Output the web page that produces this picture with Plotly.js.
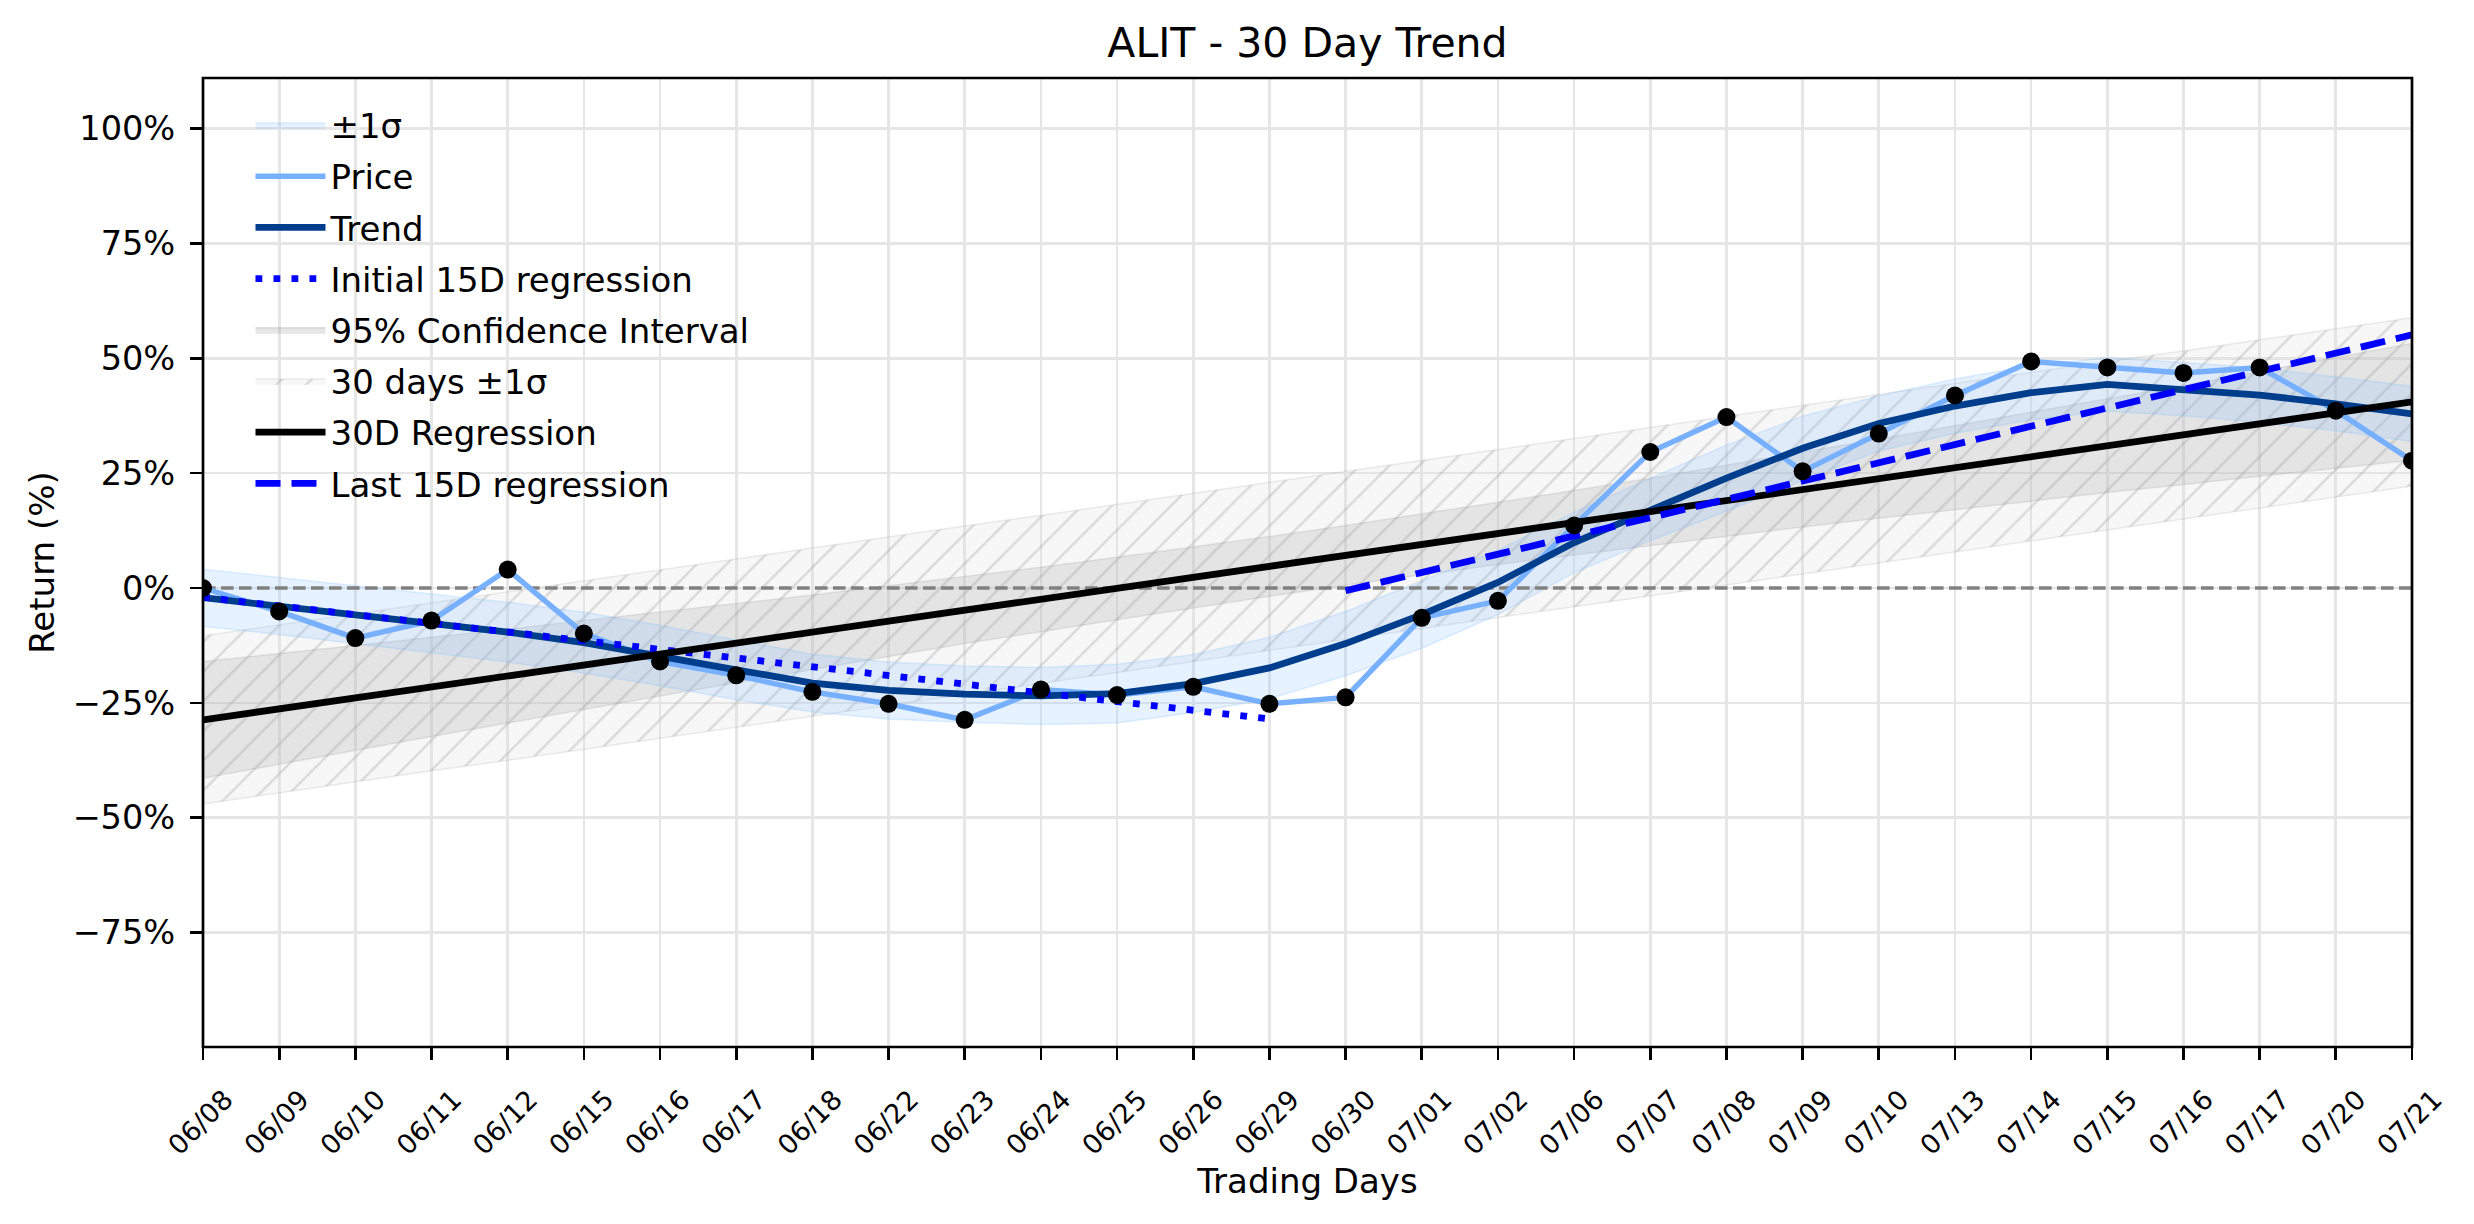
<!DOCTYPE html>
<html>
<head>
<meta charset="utf-8">
<script src="https://cdn.plot.ly/plotly-3.0.1.min.js"></script>
<style>
html,body{margin:0;padding:0;background:#ffffff;}
#chart{width:2474px;height:1224px;}
</style>
</head>
<body>
<div id="chart"></div>
<script>
// ---- data ----
const dates = ['06/08','06/09','06/10','06/11','06/12','06/15','06/16','06/17','06/18','06/22',
               '06/23','06/24','06/25','06/26','06/29','06/30','07/01','07/02','07/06','07/07',
               '07/08','07/09','07/10','07/13','07/14','07/15','07/16','07/17','07/20','07/21'];
const price = [0, -5.1, -10.9, -7.1, 4.0, -9.9, -16.0, -19.0, -22.6, -25.2,
               -28.7, -22.1, -23.3, -21.5, -25.2, -23.8, -6.5, -2.8, 13.6, 29.6,
               37.2, 25.4, 33.6, 41.9, 49.3, 48.0, 46.8, 48.0, 38.6, 27.7];
const trend = [-2.1, -3.9, -5.8, -7.7, -9.6, -11.9, -14.7, -17.8, -20.7, -22.3,
               -23.1, -23.5, -23.0, -20.8, -17.4, -12.1, -5.8, 1.2, 9.9, 17.1,
               23.9, 30.4, 35.8, 39.6, 42.5, 44.3, 43.3, 42.0, 40.1, 37.9];
const trendSigma = [6.2, 6.2, 6.3, 6.4, 6.5, 6.6, 6.6, 6.5, 6.3, 6.2,
                    6.1, 6.2, 6.4, 6.3, 6.7, 7.0, 7.3, 7.0, 6.6, 6.8,
                    7.2, 7.0, 6.0, 5.9, 5.9, 5.8, 5.8, 5.9, 5.9, 6.0];
const reg30 = [-28.7, -26.3, -23.9, -21.5, -19.2, -16.8, -14.4, -12.0, -9.6, -7.2,
               -4.8, -2.5, -0.1, 2.3, 4.7, 7.1, 9.5, 11.9, 14.2, 16.6,
               19.0, 21.4, 23.8, 26.2, 28.6, 31.0, 33.3, 35.7, 38.1, 40.5];
const ciHalf = [12.7, 12.0, 11.4, 10.8, 10.2, 9.7, 9.1, 8.6, 8.1, 7.7,
                7.3, 7.0, 6.8, 6.6, 6.5, 6.5, 6.6, 6.8, 7.0, 7.3,
                7.7, 8.1, 8.6, 9.1, 9.7, 10.2, 10.8, 11.4, 12.0, 12.7];
const sigma30 = 18.3;
const init15 = [-2.0, -3.9, -5.8, -7.7, -9.6, -11.5, -13.4, -15.3, -17.1, -19.0,
                -20.9, -22.8, -24.7, -26.6, -28.5];
const last15 = [-0.6, 3.4, 7.4, 11.3, 15.3, 19.3, 23.3, 27.3, 31.2, 35.2,
                39.2, 43.2, 47.2, 51.1, 55.1];
const zeroRef = [0, 0];
const yTicks = [-75, -50, -25, 0, 25, 50, 75, 100];
const yTickText = yTicks.map(v => (v < 0 ? '\u2212' : '') + Math.abs(v) + '%');

// ---- helpers ----
function band(center, half) {
  const h = i => Array.isArray(half) ? half[i] : half;
  const up = center.map((v, i) => v + h(i));
  const lo = center.map((v, i) => v - h(i));
  return {x: dates.concat(dates.slice().reverse()), y: up.concat(lo.slice().reverse())};
}

const FONT = 'DejaVu Sans, Arial, sans-serif';
const sBand = band(trend, trendSigma);
const ciBand = band(reg30, ciHalf);
const hBand = band(reg30, sigma30);

const traces = [
  {name: '±1σ', legendgroup: 'g1', x: sBand.x, y: sBand.y, mode: 'lines', fill: 'toself',
   fillcolor: 'rgba(130,190,255,0.2)', line: {color: 'rgba(130,190,255,0.25)', width: 1.5}, zorder: 2,
   hoverinfo: 'skip'},
  {name: 'Price', legendgroup: 'g2', x: dates, y: price, mode: 'lines',
   line: {color: '#77b0ff', width: 5.4}, zorder: 4},
  {name: 'Trend', legendgroup: 'g3', x: dates, y: trend, mode: 'lines',
   line: {color: '#003d8c', width: 6.8}, zorder: 5},
  {name: 'Initial 15D regression', legendgroup: 'g4', x: dates.slice(0, init15.length), y: init15, mode: 'lines',
   line: {color: '#0000ff', width: 6.8, dash: '6.8px,11.2px'}, zorder: 6},
  {name: '95% Confidence Interval', legendgroup: 'g5', x: ciBand.x, y: ciBand.y, mode: 'lines', fill: 'toself',
   fillcolor: 'rgba(128,128,128,0.2)', line: {color: 'rgba(128,128,128,0.22)', width: 1.5}, zorder: 0,
   hoverinfo: 'skip'},
  {name: '30 days ±1σ', legendgroup: 'g6', x: hBand.x, y: hBand.y, mode: 'lines', fill: 'toself',
   fillcolor: 'rgba(225,225,225,0.25)',
   fillpattern: {shape: '/', fgcolor: 'rgb(150,150,150)', fgopacity: 0.3, bgcolor: 'rgba(225,225,225,0.25)', size: 21, solidity: 0.12},
   line: {color: 'rgba(160,160,160,0.2)', width: 1.5}, zorder: 1, hoverinfo: 'skip'},
  {name: '30D Regression', legendgroup: 'g7', x: dates, y: reg30, mode: 'lines',
   line: {color: '#000000', width: 6.8}, zorder: 7},
  {name: 'Last 15D regression', legendgroup: 'g8', x: dates.slice(dates.length - last15.length), y: last15, mode: 'lines',
   line: {color: '#0000ff', width: 6.8, dash: '25px,11px'}, zorder: 8},
  {name: 'zero', legendgroup: 'g9', showlegend: false, x: [dates[0], dates[dates.length - 1]], y: zeroRef, mode: 'lines',
   line: {color: '#808080', width: 3.4, dash: '12.6px,5.4px'}, zorder: 3, hoverinfo: 'skip'},
  {name: 'Price points', legendgroup: 'g2', showlegend: false, x: dates, y: price, mode: 'markers',
   marker: {color: '#000000', size: 18}, zorder: 9, cliponaxis: true}
];

const layout = {
  width: 2474, height: 1224,
  paper_bgcolor: '#ffffff', plot_bgcolor: '#ffffff',
  margin: {l: 203, r: 62, t: 78, b: 177, pad: 0},
  font: {family: FONT, color: '#000000'},
  title: {text: 'ALIT - 30 Day Trend', font: {family: FONT, size: 41, color: '#000000'},
          x: 0.5, xanchor: 'center', xref: 'paper', y: 0.965, yanchor: 'middle'},
  showlegend: true,
  legend: {x: 0.0215, y: 0.981, xanchor: 'left', yanchor: 'top', bgcolor: 'rgba(0,0,0,0)', borderwidth: 0,
           font: {family: FONT, size: 34, color: '#000000'}, traceorder: 'grouped', tracegroupgap: 4,
           itemwidth: 70},
  xaxis: {type: 'category', range: [0, dates.length - 1], tickvals: dates, ticktext: dates,
          tickangle: -45, tickfont: {family: FONT, size: 27, color: '#000000'}, ticklabelshift: 22,
          ticklabelstandoff: 13,
          ticks: 'outside', ticklen: 12, tickwidth: 2.7, tickcolor: '#000000',
          showline: false,
          showgrid: true, gridcolor: '#e6e6e6', gridwidth: 2.7, zeroline: false,
          title: {text: 'Trading Days', font: {family: FONT, size: 34, color: '#000000'}, standoff: 0},
          automargin: false},
  yaxis: {range: [-99.9, 111.0], tickvals: yTicks, ticktext: yTickText,
          tickfont: {family: FONT, size: 33.6, color: '#000000'},
          ticks: 'outside', ticklen: 12, tickwidth: 2.7, tickcolor: '#000000', ticklabelstandoff: 8,
          showline: false,
          showgrid: true, gridcolor: '#e6e6e6', gridwidth: 2.7, zeroline: false,
          title: {text: 'Return (%)', font: {family: FONT, size: 34, color: '#000000'}, standoff: 7},
          automargin: false},
  shapes: [{type: 'rect', xref: 'paper', yref: 'paper', x0: 0, x1: 1, y0: 0, y1: 1, layer: 'above',
            line: {color: '#000000', width: 2.7}, fillcolor: 'rgba(0,0,0,0)'}]
};

Plotly.newPlot('chart', traces, layout, {staticPlot: true, displayModeBar: false});
</script>
</body>
</html>
